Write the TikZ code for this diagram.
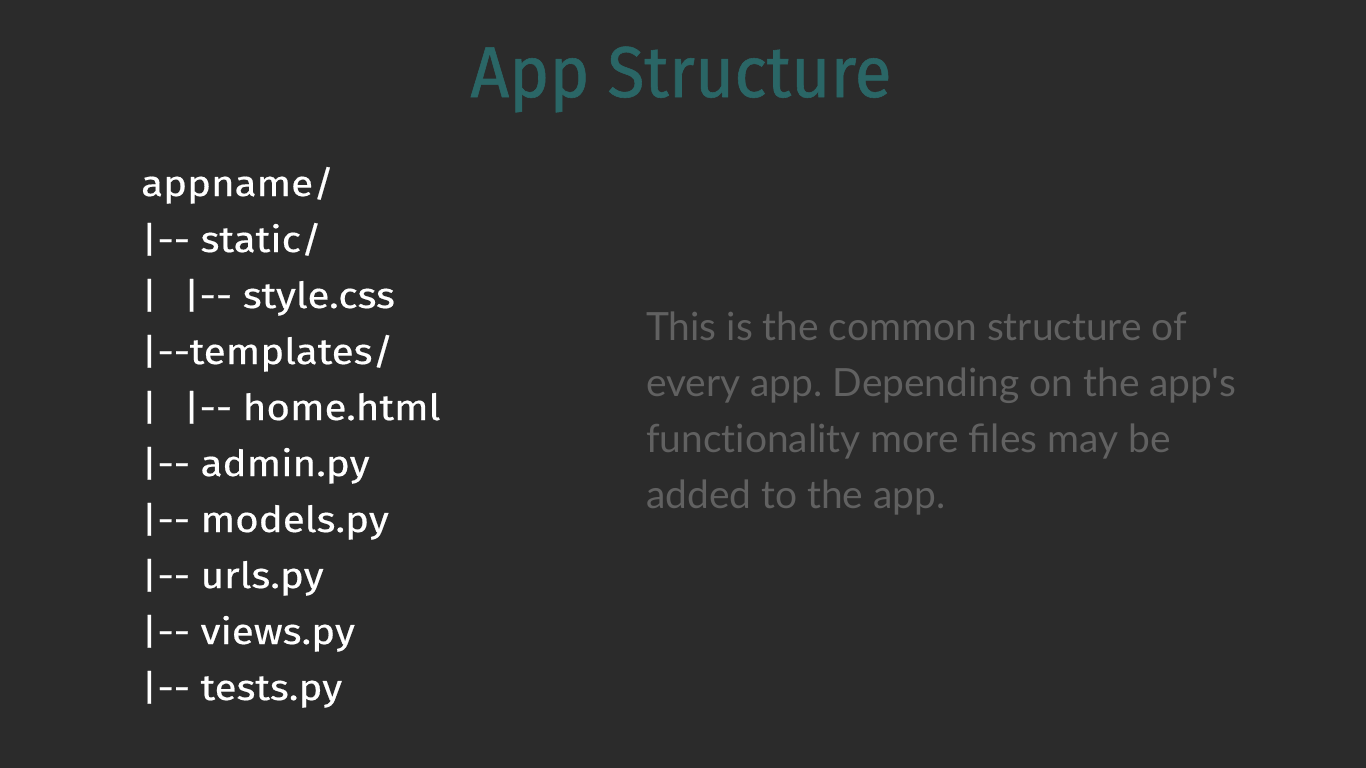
\documentclass[tikz,border=0pt]{standalone}
\usepackage{fontspec}
\newfontfamily\titlefont[FakeStretch=0.94,FakeBold=0.8]{Fira Sans}
\newfontfamily\listfont[FakeStretch=1.12,FakeBold=0.5]{Fira Sans}
\newfontfamily\bodyfont{Lato}
\frenchspacing
\definecolor{bg}{HTML}{2B2B2B}
\definecolor{titlec}{HTML}{2A6666}
\definecolor{bodyc}{HTML}{616161}
\tikzset{
  listline/.style={anchor=base west, inner sep=0pt, text=white, font=\listfont\fontsize{36}{40}\selectfont},
  bodyline/.style={anchor=base west, inner sep=0pt, text=bodyc, font=\bodyfont\fontsize{38.9}{44}\selectfont},
  titlenode/.style={anchor=base, inner sep=0pt, text=titlec, font=\titlefont\fontsize{72}{80}\selectfont}
}
\begin{document}
\begin{tikzpicture}[x=1pt,y=-1pt]
\fill[bg] (0,0) rectangle (1366,768);
\useasboundingbox (0,0) rectangle (1366,768);
\node[titlenode] (title) at (681,97) {App Structure};
\node[listline] (l1) at (141,196) {appname/};
\node[listline] (l2) at (141,252) {|-{}- static/};
\node[listline] (l3) at (141,308) {|\hspace{26pt}|-{}- style.css};
\node[listline] (l4) at (141,364) {|-{}-templates/};
\node[listline] (l5) at (141,420) {|\hspace{26pt}|-{}- home.html};
\node[listline] (l6) at (141,476) {|-{}- admin.py};
\node[listline] (l7) at (141,532) {|-{}- models.py};
\node[listline] (l8) at (141,588) {|-{}- urls.py};
\node[listline] (l9) at (141,644) {|-{}- views.py};
\node[listline] (l10) at (141,700) {|-{}- tests.py};
\node[bodyline] (b1) at (646,340) {This is the common structure of};
\node[bodyline] (b2) at (646,396) {every app. Depending on the app's};
\node[bodyline] (b3) at (646,452) {func\hbox{t}ionality more files may be};
\node[bodyline] (b4) at (646,508) {added to the app.};
\end{tikzpicture}
\end{document}
